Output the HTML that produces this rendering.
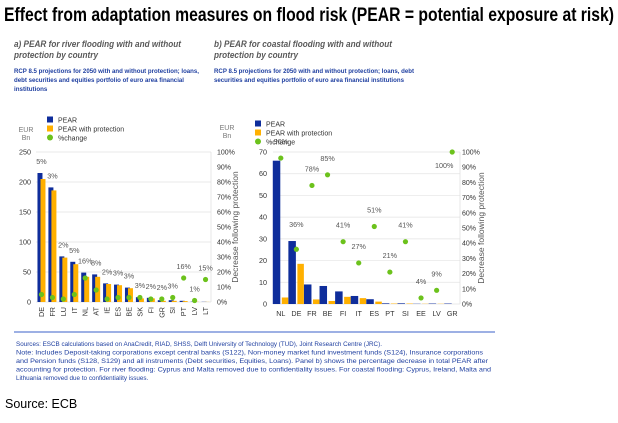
<!DOCTYPE html>
<html><head><meta charset="utf-8"><style>
body{margin:0;background:#fff;}
svg{display:block;font-family:"Liberation Sans",Arial,sans-serif;}
</style></head><body>
<svg id="s" width="618" height="423" viewBox="0 0 618 423">
<text x="4" y="21" font-size="19" font-weight="bold" textLength="610" lengthAdjust="spacingAndGlyphs">Effect from adaptation measures on flood risk (PEAR = potential exposure at risk)</text>
<g fill="#595959" font-size="9" font-style="italic" font-weight="bold">
<text x="14" y="47" textLength="167" lengthAdjust="spacingAndGlyphs">a) PEAR for river flooding with and without</text>
<text x="14" y="58" textLength="84" lengthAdjust="spacingAndGlyphs">protection by country</text>
<text x="214" y="47" textLength="178" lengthAdjust="spacingAndGlyphs">b) PEAR for coastal flooding with and without</text>
<text x="214" y="58" textLength="84" lengthAdjust="spacingAndGlyphs">protection by country</text>
</g>
<g fill="#1f3fa0" font-size="6.2" font-weight="bold">
<text x="14" y="73" textLength="185" lengthAdjust="spacingAndGlyphs">RCP 8.5 projections for 2050 with and without protection; loans,</text>
<text x="14" y="82" textLength="170" lengthAdjust="spacingAndGlyphs">debt securities and equities portfolio of euro area financial</text>
<text x="14" y="91">institutions</text>
<text x="214" y="73" textLength="200" lengthAdjust="spacingAndGlyphs">RCP 8.5 projections for 2050 with and without protection; loans, debt</text>
<text x="214" y="82" textLength="190" lengthAdjust="spacingAndGlyphs">securities and equities portfolio of euro area financial institutions</text>
</g>
<g id="A"></g><g id="B"></g>
<line x1="14" y1="332" x2="495" y2="332" stroke="#3b62c9" stroke-width="1"/>
<g fill="#1f3fa0" font-size="6.3">
<text x="16" y="346">Sources:  ESCB calculations based on AnaCredit, RIAD, SHSS, Delft University of Technology (TUD), Joint Research Centre (JRC).</text>
<text x="16" y="354.5" textLength="467" lengthAdjust="spacingAndGlyphs">Note: Includes Deposit-taking corporations except central banks (S122), Non-money market fund investment funds (S124), Insurance corporations</text>
<text x="16" y="363" textLength="472" lengthAdjust="spacingAndGlyphs">and Pension funds (S128, S129) and all instruments (Debt securities, Equities, Loans). Panel b) shows the percentage decrease in total PEAR after</text>
<text x="16" y="371.5" textLength="475" lengthAdjust="spacingAndGlyphs">accounting for protection. For river flooding: Cyprus and Malta removed due to confidentiality issues. For coastal flooding: Cyprus, Ireland, Malta and</text>
<text x="16" y="380">Lithuania removed due to confidentiality issues.</text>
</g>
<text x="5" y="408" font-size="12.5">Source: ECB</text>
</svg>
<script>
const catsA=["DE","FR","LU","IT","NL","AT","IE","ES","BE","SK","FI","GR","SI","PT","LV","LT"];
const pearA=[215,191,76,67,49,46,31,29,24,8,7,3,3,2,0.5,0.3];
const protA=[205,186,74,63,42,42,30,28,23,6,6,2,2,1.5,0.4,0.2];
const pctA=[5,3,2,5,16,8,2,3,3,3,2,2,3,16,1,15];
const ticksA=[0,50,100,150,200,250];
const catsB=["NL","DE","FR","BE","FI","IT","ES","PT","SI","EE","LV","GR"];
const pearB=[66,29,9,8.3,5.8,3.7,2.2,0.3,0.3,0.1,0.2,0.2];
const protB=[3,18.5,2.1,1.4,3.3,2.7,1.1,0.2,0.2,0.1,0.1,0];
const pctB=[96,36,78,85,41,27,51,21,41,4,9,100];
const ticksB=[0,10,20,30,40,50,60,70];
const pctTicks=[0,10,20,30,40,50,60,70,80,90,100];
const NS="http://www.w3.org/2000/svg";
function mk(p,t,a,txt){const e=document.createElementNS(NS,t);for(const k in a)e.setAttribute(k,a[k]);if(txt!==undefined)e.textContent=txt;p.appendChild(e);return e;}
function panel(g,o){
  const yv=v=>o.y0-(v/o.max)*(o.y0-o.y1);
  const yp=v=>o.y0-(v/100)*(o.y0-o.y1);
  const bw=(o.x1-o.x0)/o.cats.length;
  const cx=i=>o.x0+bw*(i+0.5);
  const leg=[["#0f2d9b","PEAR"],["#ffb000","PEAR with protection"],["#6cc21c","%change"]];
  leg.forEach((l,i)=>{const y=o.ly+i*9;
    let m;
    if(i<2){m=mk(g,"rect",{x:o.lx,y:y-3.5,width:6,height:6,fill:l[0]});}
    else{m=mk(g,"circle",{cx:o.lx+3,cy:y-0.5,r:3,fill:l[0]});}
    
    
    const t=mk(g,"text",{x:o.lx+11,y:y+2.5,"font-size":"7",fill:"#333"},l[1]);
    
    
  });
  const u1=mk(g,"text",{x:o.ux,y:o.uy,"font-size":"7",fill:"#777","text-anchor":"middle"},"EUR");
  
  
  const u2=mk(g,"text",{x:o.ux,y:o.uy+8,"font-size":"7",fill:"#777","text-anchor":"middle"},"Bn");
  
  
  o.ticks.forEach(v=>{
    const gl=mk(g,"line",{x1:o.x0,x2:o.x1,y1:yv(v),y2:yv(v),stroke:"#e3e3e3","stroke-width":0.7});
    
    
    const t=mk(g,"text",{x:o.tx,y:yv(v)+2.5,"font-size":"7.2",fill:"#333","text-anchor":"end"},v);
    
    
  });
  pctTicks.forEach(v=>{
    const t=mk(g,"text",{x:o.rx,y:yp(v)+2.5,"font-size":"7",fill:"#333"},v+"%");
    
    
  });
  const ymid=(o.y0+o.y1)/2;
  const at=mk(g,"text",{x:o.tt,y:ymid,"font-size":"8.5",fill:"#555","text-anchor":"middle",transform:`rotate(-90 ${o.tt} ${ymid})`},"Decrease following protection");
  
  
  const al=mk(g,"line",{x1:o.x1,x2:o.x1,y1:o.y1,y2:o.y0,stroke:"#ddd","stroke-width":0.7});
  
  
  o.cats.forEach((c,i)=>{
    const x=cx(i);
    const b1=mk(g,"rect",{x:x+o.b1x,y:yv(o.pear[i]),width:o.bw1,height:o.y0-yv(o.pear[i]),fill:"#0f2d9b"});
    
    
    const b2=mk(g,"rect",{x:x+o.b2x,y:yv(o.prot[i]),width:o.bw2,height:o.y0-yv(o.prot[i]),fill:"#ffb000"});
    
    
    const d=mk(g,"circle",{cx:x,cy:yp(o.pct[i]),r:2.6,fill:"#6cc21c"});
    
    
    const top=Math.min(yv(o.pear[i]),yp(o.pct[i]));
    let lx=x,ly=top-o.lab;
    if(o.pct[i]>=100){lx=x-8;ly=yp(o.pct[i])+16;}
    const lt=mk(g,"text",{x:lx,y:ly,"font-size":"7.2",fill:"#555","text-anchor":"middle"},o.pct[i]+"%");
    
    
    let ct;
    if(o.rot){ct=mk(g,"text",{x:x+2.5,y:o.y0+5,"font-size":"7.2",fill:"#333","text-anchor":"end",transform:`rotate(-90 ${x+2.5} ${o.y0+5})`},c);}
    else{ct=mk(g,"text",{x:x,y:o.y0+12,"font-size":"7.2",fill:"#333","text-anchor":"middle"},c);}
    
    
  });
}
const A=document.getElementById("A");


panel(A,{cats:catsA,pear:pearA,prot:protA,pct:pctA,ticks:ticksA,max:250,x0:36,x1:211,y0:302,y1:152,tx:31,rx:217,tt:238,lx:47,ly:120,ux:26,uy:132,b1x:-4,bw1:5,b2x:-1,bw2:5,lab:9,rot:true});
const B=document.getElementById("B");


panel(B,{cats:catsB,pear:pearB,prot:protB,pct:pctB,ticks:ticksB,max:70,x0:273,x1:460,y0:304,y1:152,tx:267,rx:462,tt:484,lx:255,ly:124,ux:227,uy:130,b1x:-8,bw1:7.5,b2x:1,bw2:6.5,lab:14,rot:false});
</script>
</body></html>
